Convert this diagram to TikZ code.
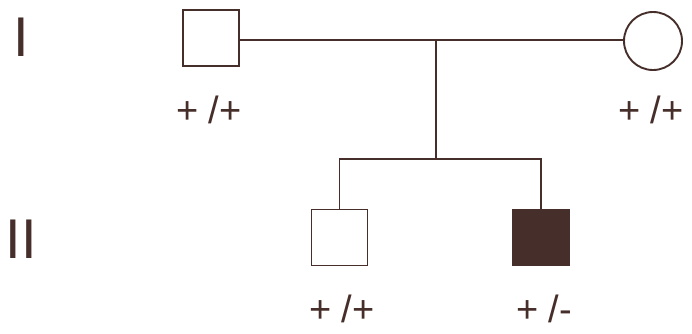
\documentclass[tikz,border=0pt]{standalone}
\usepackage{fontspec}
\setmainfont{Liberation Sans}
\usepackage{tikz}
\usetikzlibrary{positioning}
\definecolor{ink}{RGB}{70,46,42}

\begin{document}
\begin{tikzpicture}[x=1pt, y=-1pt,
        male/.style = {draw=ink, line width=1.9pt, minimum size=56pt, inner sep=0pt},
        female/.style = {draw=ink, circle, line width=1.9pt, minimum size=58pt, inner sep=0pt},
        affected/.style = {male, fill=ink},
        geno/.style = {text=ink, inner sep=0pt, font=\fontsize{38}{38}\selectfont},
        gen/.style = {text=ink, inner sep=0pt, font=\fontsize{56}{56}\selectfont},
        link/.style = {draw=ink, line width=1.7pt}]
        \useasboundingbox (0,0) rectangle (692,333);
        \node[gen] (g1) at (21.5,37) {I};
        \node[gen] (g2) at (21.5,239) {II};
        \node[male] (father) at (211,38) {};
        \node[female] (mother) at (653,41) {};
        \node[male] (son1) at (339.5,237.5) {};
        \node[affected] (son2) at (541,237.5) {};
        \coordinate (mate) at (436,40);
        \coordinate (sib) at (436,159);
        \coordinate (sib1) at (339.5,159);
        \coordinate (sib2) at (541,159);
        \draw[link] (father.east |- mate) -- (mother.west |- mate);
        \draw[link] (mate) -- (sib);
        \draw[link] (son1.north) -- (sib1) -- (sib2) -- (son2.north);
        \node[geno] (fg) at (209,110) {+ /+};
        \node[geno] (mg) at (651,110) {+ /+};
        \node[geno] (s1g) at (342,309) {+ /+};
        \node[geno] (s2g) at (544,309) {+ /-};
\end{tikzpicture}
\end{document}
